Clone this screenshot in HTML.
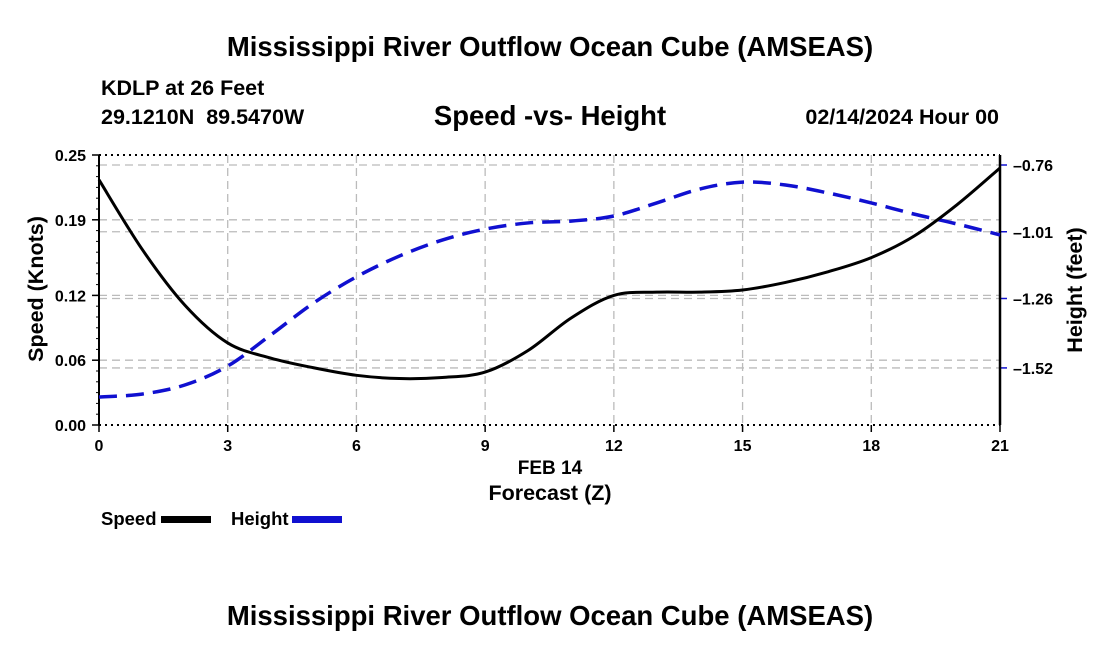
<!DOCTYPE html>
<html><head><meta charset="utf-8"><style>
body{margin:0;background:#fff;}
svg{display:block;font-family:"Liberation Sans",sans-serif;font-weight:bold;}
</style></head><body>
<svg id="chart" width="1100" height="650" viewBox="0 0 1100 650" xmlns="http://www.w3.org/2000/svg">
<text x="550" y="56" font-size="27.5" text-anchor="middle">Mississippi River Outflow Ocean Cube (AMSEAS)</text>
<text x="101" y="95" font-size="21.5">KDLP at 26 Feet</text>
<text x="101" y="124" font-size="21.5" xml:space="preserve">29.1210N  89.5470W</text>
<text x="550" y="125" font-size="27.5" text-anchor="middle">Speed -vs- Height</text>
<text x="999" y="124" font-size="21.5" text-anchor="end">02/14/2024 Hour 00</text>
<g id="grid"></g>
<g id="axes"></g>
<g id="series"></g>
<text x="550" y="474" font-size="19" text-anchor="middle">FEB 14</text>
<text x="550" y="500" font-size="21.5" text-anchor="middle">Forecast (Z)</text>
<text transform="translate(43,289) rotate(-90)" font-size="21.5" text-anchor="middle">Speed (Knots)</text>
<text transform="translate(1082,290) rotate(-90)" font-size="21.5" text-anchor="middle">Height (feet)</text>
<g>
<text x="101" y="525" font-size="18.5">Speed</text>
<rect x="161" y="516" width="50" height="7" fill="#000"/>
<text x="231" y="525" font-size="18.5">Height</text>
<rect x="292" y="516" width="50" height="7" fill="#1010d0"/>
</g>
<text x="550" y="625" font-size="27.5" text-anchor="middle">Mississippi River Outflow Ocean Cube (AMSEAS)</text>
</svg>
<script>
const hours=[0,1,2,3,4,5,6,7,8,9,10,11,12,13,14,15,16,17,18,19,20,21];
const speed=[0.227,0.163,0.111,0.076,0.062,0.053,0.046,0.043,0.044,0.049,0.069,0.099,0.120,0.123,0.123,0.125,0.132,0.142,0.155,0.175,0.204,0.238];
const height=[-1.629,-1.618,-1.584,-1.513,-1.397,-1.277,-1.179,-1.101,-1.041,-1.000,-0.977,-0.970,-0.951,-0.902,-0.850,-0.824,-0.835,-0.865,-0.902,-0.944,-0.981,-1.022];
const xTicks=[0,3,6,9,12,15,18,21];
const speedTicks=[0.00,0.06,0.12,0.19,0.25];
const heightTicks=[-0.76,-1.01,-1.26,-1.52];
const NS="http://www.w3.org/2000/svg";
const X0=99,X1=1000,YT=155,YB=425;
const sx=h=>X0+(h/21)*(X1-X0);
const sy=v=>YB-(v/0.25)*(YB-YT);
const hy=v=>165+(-0.76-v)*267;
function mk(tag,attrs,parent){const e=document.createElementNS(NS,tag);for(const k in attrs)e.setAttribute(k,attrs[k]);parent.appendChild(e);return e;}
const grid=document.getElementById('grid'),axes=document.getElementById('axes'),series=document.getElementById('series');
xTicks.forEach(t=>{
  if(t>0&&t<21){const l=mk('line',{x1:sx(t),x2:sx(t),y1:YT,y2:YB,stroke:'#bbb','stroke-width':1.3,'stroke-dasharray':'8 5'},grid);
  }
  const tk=mk('line',{x1:sx(t),x2:sx(t),y1:YB,y2:YB+7,stroke:'#000','stroke-width':1.5},axes);
  
  const tx=mk('text',{x:sx(t),y:YB+26,'font-size':16,'text-anchor':'middle'},axes);tx.textContent=t;
  
});
speedTicks.forEach(v=>{
  if(v>0&&v<0.25){const l=mk('line',{x1:X0,x2:X1,y1:sy(v),y2:sy(v),stroke:'#bbb','stroke-width':1.3,'stroke-dasharray':'8 5'},grid);
  }
  const tk=mk('line',{x1:X0-7,x2:X0,y1:sy(v),y2:sy(v),stroke:'#000','stroke-width':1.5},axes);
  
  const tx=mk('text',{x:X0-13,y:sy(v)+6,'font-size':16,'text-anchor':'end'},axes);tx.textContent=v.toFixed(2);
  
});
for(let i=1;i<25;i++){const y=YB-i*(YB-YT)/25;mk('line',{x1:X0-3,x2:X0,y1:y,y2:y,stroke:'#000','stroke-width':1},axes);}
heightTicks.forEach(v=>{
  const l=mk('line',{x1:X0,x2:X1,y1:hy(v),y2:hy(v),stroke:'#bbb','stroke-width':1.3,'stroke-dasharray':'8 5'},grid);
  
  const tk=mk('line',{x1:X1,x2:X1+7,y1:hy(v),y2:hy(v),stroke:'#1010d0','stroke-width':1.5},axes);
  
  const tx=mk('text',{x:X1+13,y:hy(v)+6,'font-size':16},axes);tx.textContent=v.toFixed(2).replace('-','\u2013');
  
});
[YT,YB].forEach(y=>{const l=mk('line',{x1:X0,x2:X1,y1:y,y2:y,stroke:'#000','stroke-width':2,'stroke-dasharray':'2 4'},axes);
});
const la=mk('line',{x1:X0,x2:X0,y1:YT,y2:YB,stroke:'#000','stroke-width':2},axes);

const ra=mk('line',{x1:X1,x2:X1,y1:YT,y2:YB,stroke:'#000','stroke-width':2.5},axes);

function smooth(pts){let d=`M${pts[0][0]},${pts[0][1]}`;
  for(let i=0;i<pts.length-1;i++){const p0=pts[i-1]||pts[i],p1=pts[i],p2=pts[i+1],p3=pts[i+2]||p2;
    d+=` C${p1[0]+(p2[0]-p0[0])/6},${p1[1]+(p2[1]-p0[1])/6} ${p2[0]-(p3[0]-p1[0])/6},${p2[1]-(p3[1]-p1[1])/6} ${p2[0]},${p2[1]}`;}
  return d;}
const hp=mk('path',{d:smooth(hours.map((h,i)=>[sx(h),hy(height[i])])),fill:'none',stroke:'#1010d0','stroke-width':3.5,'stroke-dasharray':'18 9'},series);

const sp=mk('path',{d:smooth(hours.map((h,i)=>[sx(h),sy(speed[i])])),fill:'none',stroke:'#000','stroke-width':3},series);

</script>
</body></html>
